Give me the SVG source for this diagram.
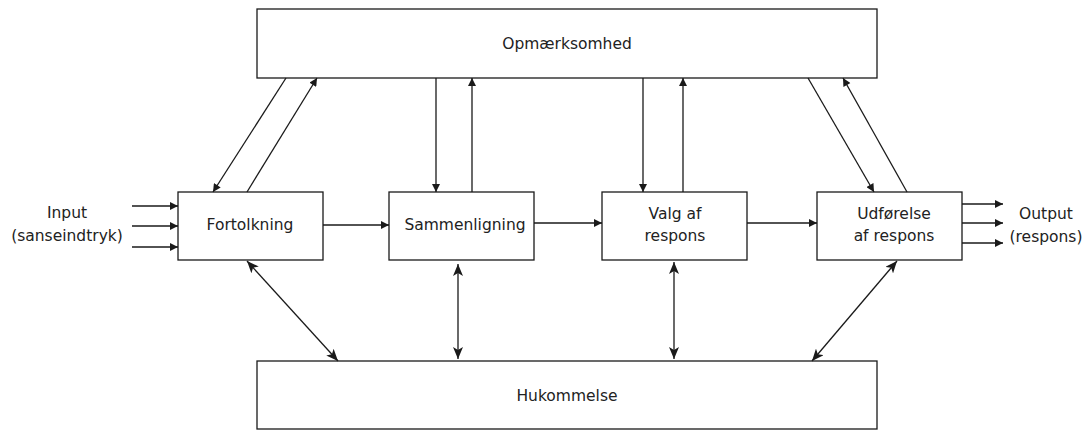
<svg xmlns="http://www.w3.org/2000/svg" width="1090" height="433" viewBox="0 0 1090 433">
  <style>
    .box { fill: #fff; stroke: #1a1a1a; stroke-width: 1.3; }
    .lbl { font-family: "DejaVu Sans", Verdana, sans-serif; font-size: 15.5px; fill: #222; text-anchor: middle; }
    .ln { stroke: #1a1a1a; stroke-width: 1.3; fill: none; }
    .end { marker-end: url(#ah); }
    .both { marker-start: url(#ah2); marker-end: url(#ah2); }
  </style>
  <defs>
    <marker id="ah" viewBox="0 0 10 10" refX="10" refY="5" markerWidth="9" markerHeight="8" markerUnits="userSpaceOnUse" orient="auto-start-reverse">
      <path d="M0,0 L10,5 L0,10 Z" fill="#1a1a1a"/>
    </marker>
    <marker id="ah2" viewBox="0 0 12 10" refX="12" refY="5" markerWidth="12" markerHeight="10" markerUnits="userSpaceOnUse" orient="auto-start-reverse">
      <path d="M0,0 L12,5 L0,10 L3,5 Z" fill="#1a1a1a"/>
    </marker>
  </defs>
  <rect width="1090" height="433" fill="#fff"/>

  <g id="opmaerksomhed">
    <rect class="box" x="257" y="9" width="620" height="69"/>
    <text class="lbl" x="567" y="49">Opmærksomhed</text>
  </g>
  <g id="hukommelse">
    <rect class="box" x="257" y="361" width="620" height="68"/>
    <text class="lbl" x="567" y="401">Hukommelse</text>
  </g>
  <g id="fortolkning">
    <rect class="box" x="178" y="192" width="145" height="68"/>
    <text class="lbl" x="250" y="230">Fortolkning</text>
  </g>
  <g id="sammenligning">
    <rect class="box" x="389" y="192" width="145" height="68"/>
    <text class="lbl" x="465" y="230">Sammenligning</text>
  </g>
  <g id="valg">
    <rect class="box" x="602" y="192" width="145" height="68"/>
    <text class="lbl" x="675" y="219">Valg af</text>
    <text class="lbl" x="675" y="241">respons</text>
  </g>
  <g id="udfoerelse">
    <rect class="box" x="817" y="192" width="145" height="68"/>
    <text class="lbl" x="894" y="219">Udførelse</text>
    <text class="lbl" x="894" y="241">af respons</text>
  </g>
  <g id="input">
    <text class="lbl" x="67" y="218">Input</text>
    <text class="lbl" x="67" y="241">(sanseindtryk)</text>
  </g>
  <g id="output">
    <text class="lbl" x="1046" y="219">Output</text>
    <text class="lbl" x="1046" y="242">(respons)</text>
  </g>

  <g id="connectors">
    <!-- sensory input -->
    <line class="ln end" x1="132" y1="206" x2="178" y2="206"/>
    <line class="ln end" x1="132" y1="226" x2="178" y2="226"/>
    <line class="ln end" x1="132" y1="247" x2="178" y2="247"/>
    <!-- processing chain -->
    <line class="ln end" x1="323" y1="225" x2="389" y2="225"/>
    <line class="ln end" x1="534" y1="223" x2="602" y2="223"/>
    <line class="ln end" x1="747" y1="223" x2="817" y2="223"/>
    <!-- response output -->
    <line class="ln end" x1="962" y1="204" x2="1003" y2="204"/>
    <line class="ln end" x1="962" y1="223" x2="1003" y2="223"/>
    <line class="ln end" x1="962" y1="243" x2="1003" y2="243"/>
    <!-- attention links -->
    <line class="ln end" x1="286" y1="78" x2="213" y2="192"/>
    <line class="ln end" x1="247" y1="192" x2="317" y2="78"/>
    <line class="ln end" x1="436" y1="78" x2="436" y2="192"/>
    <line class="ln end" x1="472" y1="192" x2="472" y2="78"/>
    <line class="ln end" x1="643" y1="78" x2="643" y2="192"/>
    <line class="ln end" x1="683" y1="192" x2="683" y2="78"/>
    <line class="ln end" x1="808" y1="78" x2="874" y2="192"/>
    <line class="ln end" x1="907" y1="192" x2="843" y2="78"/>
    <!-- memory links -->
    <line class="ln both" x1="247" y1="261" x2="338" y2="361"/>
    <line class="ln both" x1="458" y1="264" x2="458" y2="359"/>
    <line class="ln both" x1="674" y1="262" x2="674" y2="359"/>
    <line class="ln both" x1="897" y1="261" x2="812" y2="361"/>
  </g>
</svg>
